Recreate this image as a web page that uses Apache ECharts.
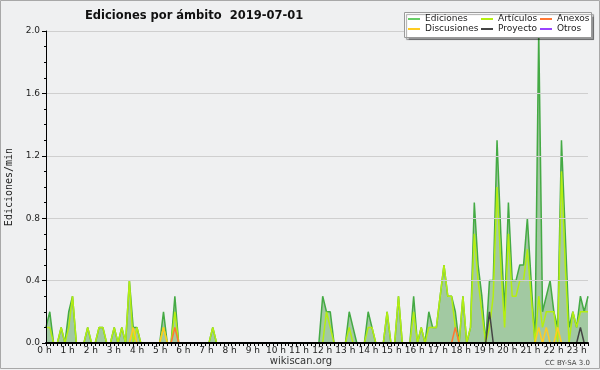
<!DOCTYPE html>
<html><head><meta charset="utf-8">
<script src="https://cdn.jsdelivr.net/npm/echarts@6/dist/echarts.min.js"></script>
<style>html,body{margin:0;padding:0;background:#eff0f1;}#c{width:600px;height:370px;}</style>
</head><body><div id="c"></div>
<script>
const hourLabels = ['0 h','1 h','2 h','3 h','4 h','5 h','6 h','7 h','8 h','9 h','10 h','11 h',
  '12 h','13 h','14 h','15 h','16 h','17 h','18 h','19 h','20 h','21 h','22 h','23 h'];
const minuteSlots = ['00','10','20','30','40','50'];
const yTicks = [0, 0.4, 0.8, 1.2, 1.6, 2.0];

// one row per hour, six 10-minute slots each (edits per minute)
const ediciones = [
  0.1,0.2,0,0,0.1,0,      0.2,0.3,0,0,0,0.1,      0,0,0.1,0.1,0,0,        0.1,0,0.1,0,0.4,0.1,
  0.1,0,0,0,0,0,          0,0.2,0,0,0.3,0,        0,0,0,0,0,0,            0,0,0.1,0,0,0,
  0,0,0,0,0,0,            0,0,0,0,0,0,            0,0,0,0,0,0,            0,0,0,0,0,0,
  0,0.3,0.2,0.2,0,0,      0,0,0.2,0.1,0,0,        0,0.2,0.1,0,0,0,        0.2,0,0,0.3,0,0,
  0,0.3,0,0.1,0,0.2,      0.1,0.1,0.3,0.5,0.3,0.3, 0.2,0,0.3,0,0.1,0.9,   0.5,0.3,0,0.4,0.4,1.3,
  0.7,0.2,0.9,0.4,0.4,0.5, 0.5,0.8,0.4,0,2.0,0.2, 0.3,0.4,0.2,0.1,1.3,0.7, 0.1,0.2,0.1,0.3,0.2,0.3
];
const articulos = [
  0.1,0.1,0,0,0.1,0,      0.1,0.3,0,0,0,0.1,      0,0,0.1,0.1,0,0,        0.1,0,0.1,0,0.4,0,
  0.1,0,0,0,0,0,          0,0.1,0,0,0.2,0,        0,0,0,0,0,0,            0,0,0.1,0,0,0,
  0,0,0,0,0,0,            0,0,0,0,0,0,            0,0,0,0,0,0,            0,0,0,0,0,0,
  0,0,0.2,0.1,0,0,        0,0,0.1,0,0,0,          0,0.1,0.1,0,0,0,        0.2,0,0,0.3,0,0,
  0,0.2,0,0.1,0,0.1,      0.1,0.1,0.3,0.5,0.3,0.3, 0.1,0,0.3,0,0.1,0.7,   0.4,0.2,0,0.1,0.3,1.0,
  0.5,0.1,0.7,0.3,0.3,0.4, 0.4,0.6,0.3,0,0.3,0.1, 0.2,0.2,0.2,0,1.1,0.5,  0,0.2,0.1,0.2,0.2,0.2
];
const anexos = [
  0,0,0,0,0,0, 0,0,0,0,0,0, 0,0,0,0,0,0, 0,0,0,0,0,0,
  0,0,0,0,0,0, 0,0,0,0,0.1,0, 0,0,0,0,0,0, 0,0,0,0,0,0,
  0,0,0,0,0,0, 0,0,0,0,0,0, 0,0,0,0,0,0, 0,0,0,0,0,0,
  0,0,0,0,0,0, 0,0,0,0,0,0, 0,0,0,0,0,0, 0,0,0,0,0,0,
  0,0,0,0,0,0, 0,0,0,0,0,0, 0.1,0,0,0,0,0, 0,0,0,0,0,0,
  0,0,0,0,0,0, 0,0,0,0,0,0, 0,0,0,0,0,0, 0,0,0,0,0,0
];
const discusiones = [
  0,0,0,0,0,0, 0,0,0,0,0,0, 0,0,0,0,0,0, 0,0,0,0,0,0.1,
  0,0,0,0,0,0, 0,0.1,0,0,0,0, 0,0,0,0,0,0, 0,0,0,0,0,0,
  0,0,0,0,0,0, 0,0,0,0,0,0, 0,0,0,0,0,0, 0,0,0,0,0,0,
  0,0,0,0,0,0, 0,0,0,0,0,0, 0,0,0,0,0,0, 0,0,0,0,0,0,
  0,0,0,0,0,0, 0,0,0,0,0,0, 0,0,0,0,0,0, 0,0,0,0,0,0,
  0,0,0,0,0,0, 0,0,0,0,0.1,0, 0.1,0,0,0.1,0,0, 0,0,0,0,0,0
];
const proyecto = [
  0,0,0,0,0,0, 0,0,0,0,0,0, 0,0,0,0,0,0, 0,0,0,0,0,0,
  0,0,0,0,0,0, 0,0,0,0,0,0, 0,0,0,0,0,0, 0,0,0,0,0,0,
  0,0,0,0,0,0, 0,0,0,0,0,0, 0,0,0,0,0,0, 0,0,0,0,0,0,
  0,0,0,0,0,0, 0,0,0,0,0,0, 0,0,0,0,0,0, 0,0,0,0,0,0,
  0,0,0,0,0,0, 0,0,0,0,0,0, 0,0,0,0,0,0, 0,0,0,0.2,0,0,
  0,0,0,0,0,0, 0,0,0,0,0,0, 0,0,0,0,0,0, 0,0,0,0.1,0,0
];
const otros = [
  0,0,0,0,0,0, 0,0,0,0,0,0, 0,0,0,0,0,0, 0,0,0,0,0,0,
  0,0,0,0,0,0, 0,0,0,0,0,0, 0,0,0,0,0,0, 0,0,0,0,0,0,
  0,0,0,0,0,0, 0,0,0,0,0,0, 0,0,0,0,0,0, 0,0,0,0,0,0,
  0,0,0,0,0,0, 0,0,0,0,0,0, 0,0,0,0,0,0, 0,0,0,0,0,0,
  0,0,0,0,0,0, 0,0,0,0,0,0, 0,0,0,0,0,0, 0,0,0,0,0,0,
  0,0,0,0,0,0, 0,0,0,0,0,0, 0,0,0,0,0,0, 0,0,0,0,0,0
];

const categories = [];
hourLabels.forEach((h, hi) => minuteSlots.forEach(m => categories.push(hi + ':' + m)));

const rich = {};
hourLabels.forEach((h, hi) => {
  const off = -1.5 + 0.4 * hi;
  rich['o' + hi] = {
    fontSize: 9, fontFamily: 'DejaVu Sans', color: '#222',
    padding: off >= 0 ? [0, 0, 0, 2 * off] : [0, -2 * off, 0, 0]
  };
});

const FONT = 'DejaVu Sans';
function lineSeries(name, data, color, extra) {
  return Object.assign({
    name, type: 'line', data, symbol: 'none', showSymbol: false,
    lineStyle: { color, width: 1.5 }, itemStyle: { color },
    emphasis: { disabled: true }, z: 2
  }, extra || {});
}
const legendBase = {
  orient: 'vertical', top: 14, padding: 0, itemGap: 0, itemWidth: 12, itemHeight: 2,
  icon: 'rect', selectedMode: false, z: 10,
  textStyle: { fontSize: 9, fontFamily: FONT, color: '#222', lineHeight: 10 }
};

const chart = echarts.init(document.getElementById('c'), null, { renderer: 'canvas' });
chart.setOption({
  animation: false,
  backgroundColor: '#eff0f1',
  title: {
    text: 'Ediciones por ámbito  2019-07-01', left: 85, top: 10, padding: 0,
    textStyle: { fontSize: 11.5, fontWeight: 'bold', fontFamily: FONT, color: '#111' }
  },
  grid: { left: 46, right: 12, top: 31, bottom: 27, containLabel: false, outerBoundsMode: 'none' },
  xAxis: {
    type: 'category', data: categories, boundaryGap: false, z: 6,
    axisLine: { lineStyle: { color: '#000', width: 2 } },
    axisTick: { show: true, interval: 0, length: 3, lineStyle: { color: '#000' } },
    axisLabel: {
      interval: 0, margin: 3,
      formatter: (v, idx) => idx % 6 === 0 ? '{o' + (idx / 6) + '|' + hourLabels[idx / 6] + '}' : '',
      rich
    },
    splitLine: { show: false }
  },
  yAxis: {
    type: 'value', min: yTicks[0], max: yTicks[yTicks.length - 1], interval: 0.4, z: 6,
    name: 'Ediciones/min', nameLocation: 'middle', nameGap: 31, nameRotate: 90,
    nameTextStyle: { fontSize: 10, fontFamily: 'DejaVu Sans Mono', color: '#222' },
    axisLine: { show: true, lineStyle: { color: '#000' } },
    axisTick: { show: true, length: 4, lineStyle: { color: '#000' } },
    minorTick: { show: true, splitNumber: 4, length: 2, lineStyle: { color: '#000' } },
    axisLabel: { fontSize: 9, fontFamily: FONT, color: '#222', margin: 6,
      formatter: v => v.toFixed(1) },
    splitLine: { show: true, lineStyle: { color: '#cfcfcf', width: 1 } }
  },
  legend: [
    Object.assign({}, legendBase, { left: 408, data: ['Ediciones', 'Discusiones'] }),
    Object.assign({}, legendBase, { left: 481, data: ['Artículos', 'Proyecto'] }),
    Object.assign({}, legendBase, { left: 540, data: ['Anexos', 'Otros'] })
  ],
  graphic: [
    { type: 'rect', z: 8, silent: true,
      shape: { x: 404.5, y: 12.5, width: 187, height: 25 },
      style: { fill: '#ffffff', stroke: '#9a9a9a', lineWidth: 1,
        shadowBlur: 1, shadowColor: 'rgba(0,0,0,0.35)', shadowOffsetX: 2, shadowOffsetY: 2 } },
    { type: 'rect', z: 20, silent: true,
      shape: { x: 0.5, y: 0.5, width: 599, height: 368 },
      style: { fill: 'none', stroke: '#a8a8a8', lineWidth: 1 } },
    { type: 'text', z: 20, silent: true,
      style: { text: 'wikiscan.org', x: 301, y: 361, textAlign: 'center', textVerticalAlign: 'middle',
        font: '10px "DejaVu Sans"', fill: '#333' } },
    { type: 'text', z: 20, silent: true,
      style: { text: 'CC BY-SA 3.0', x: 590, y: 363, textAlign: 'right', textVerticalAlign: 'middle',
        font: '7px "DejaVu Sans"', fill: '#444' } }
  ],
  series: [
    lineSeries('Ediciones', ediciones, '#44aa44', {
      itemStyle: { color: '#66cc66' }, areaStyle: { color: '#a2c9a2', opacity: 1 }
    }),
    lineSeries('Artículos', articulos, '#b4ee11'),
    lineSeries('Anexos', anexos, '#ff7733'),
    lineSeries('Discusiones', discusiones, '#ffcc22'),
    lineSeries('Proyecto', proyecto, '#444444'),
    lineSeries('Otros', otros, '#9944ff')
  ]
});
</script></body></html>
